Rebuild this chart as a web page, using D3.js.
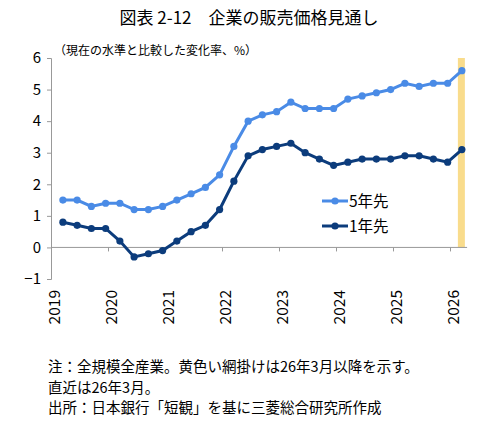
<!DOCTYPE html>
<html><head><meta charset="utf-8">
<script src="https://cdn.jsdelivr.net/npm/d3@7"></script>
<style>body{margin:0;background:#fff;font-family:"Noto Sans CJK JP",sans-serif;}</style>
</head><body><div id="chart"></div>
<script>
// quarterly Tankan, 2019 Mar .. 2026 Mar
var years = [2019, 2020, 2021, 2022, 2023, 2024, 2025, 2026];
var yTicks = [-1, 0, 1, 2, 3, 4, 5, 6];
var fiveYear = [1.5,1.5,1.3,1.4,1.4,1.2,1.2,1.3,1.5,1.7,1.9,2.3,3.2,4.0,4.2,4.3,4.6,4.4,4.4,4.4,4.7,4.8,4.9,5.0,5.2,5.1,5.2,5.2,5.6];
var oneYear = [0.8,0.7,0.6,0.6,0.2,-0.3,-0.2,-0.1,0.2,0.5,0.7,1.2,2.1,2.9,3.1,3.2,3.3,3.0,2.8,2.6,2.7,2.8,2.8,2.8,2.9,2.9,2.8,2.7,3.1];
var notes = ["注：全規模全産業。黄色い網掛けは26年3月以降を示す。", "直近は26年3月。", "出所：日本銀行「短観」を基に三菱総合研究所作成"];

var svgWidth = 499, svgHeight = 429;
var svg = d3.select("#chart").append("svg")
  .attr("width", svgWidth).attr("height", svgHeight);

var x = d3.scaleLinear().domain([2019, 2027]).range([51, 507]);
var y = d3.scaleLinear().domain([-1, 6]).range([279, 58]);
var qx = i => x(2019 + (i * 3 + 2.5) / 12);

svg.append("text").attr("x", 249).attr("y", 24).attr("text-anchor", "middle")
  .attr("font-size", "17px").text("図表 2-12　企業の販売価格見通し");
svg.append("text").attr("x", 54).attr("y", 55).attr("font-size", "12px")
  .text("（現在の水準と比較した変化率、%）");

// shaded band
svg.append("rect").attr("x", qx(28) - 4).attr("width", 7)
  .attr("y", y(6)).attr("height", y(0) - y(6)).attr("fill", "#f9dc8c");

var leftAxis = svg.append("g").attr("transform", "translate(51,0)")
  .call(d3.axisLeft(y).tickValues(yTicks).tickSize(4).tickFormat(d3.format("d")));
leftAxis.selectAll("text").attr("font-size", "15px").attr("x", -10).attr("fill", "#000")
  .attr("font-family", "Noto Sans CJK JP");
leftAxis.selectAll("line,path").attr("stroke", "#999");

var bottomAxis = svg.append("g").attr("transform", `translate(0,${y(0)})`)
  .call(d3.axisBottom(x).tickValues(years).tickSize(4).tickFormat(""));
bottomAxis.select("path").attr("d", `M51,0H${x(2026.3)}`).attr("stroke", "#999");
bottomAxis.selectAll("line").attr("stroke", "#999");

svg.selectAll(".yr").data(years).enter().append("text")
  .attr("transform", d => `translate(${x(d) + 9},290) rotate(-90)`)
  .attr("text-anchor", "end").attr("font-size", "15.5px").text(d => d);

function series(data, color) {
  var line = d3.line().x((d, i) => qx(i)).y(d => y(d));
  svg.append("path").attr("d", line(data)).attr("fill", "none")
    .attr("stroke", color).attr("stroke-width", 3);
  svg.selectAll(null).data(data).enter().append("circle")
    .attr("cx", (d, i) => qx(i)).attr("cy", d => y(d)).attr("r", 3.6).attr("fill", color);
}
var c5 = "#4a8be6", c1 = "#0c3c7c";
series(fiveYear, c5);
series(oneYear, c1);

[["5年先", c5, 201], ["1年先", c1, 226]].forEach(function (l) {
  svg.append("line").attr("x1", 322).attr("x2", 348).attr("y1", l[2]).attr("y2", l[2])
    .attr("stroke", l[1]).attr("stroke-width", 3);
  svg.append("circle").attr("cx", 335).attr("cy", l[2]).attr("r", 3.6).attr("fill", l[1]);
  svg.append("text").attr("x", 349).attr("y", l[2] + 6).attr("font-size", "15.5px").text(l[0]);
});

svg.selectAll(".note").data(notes).enter().append("text")
  .attr("x", 48).attr("y", (d, i) => 372 + i * 20.5).attr("font-size", "14.5px").text(d => d);
</script></body></html>
